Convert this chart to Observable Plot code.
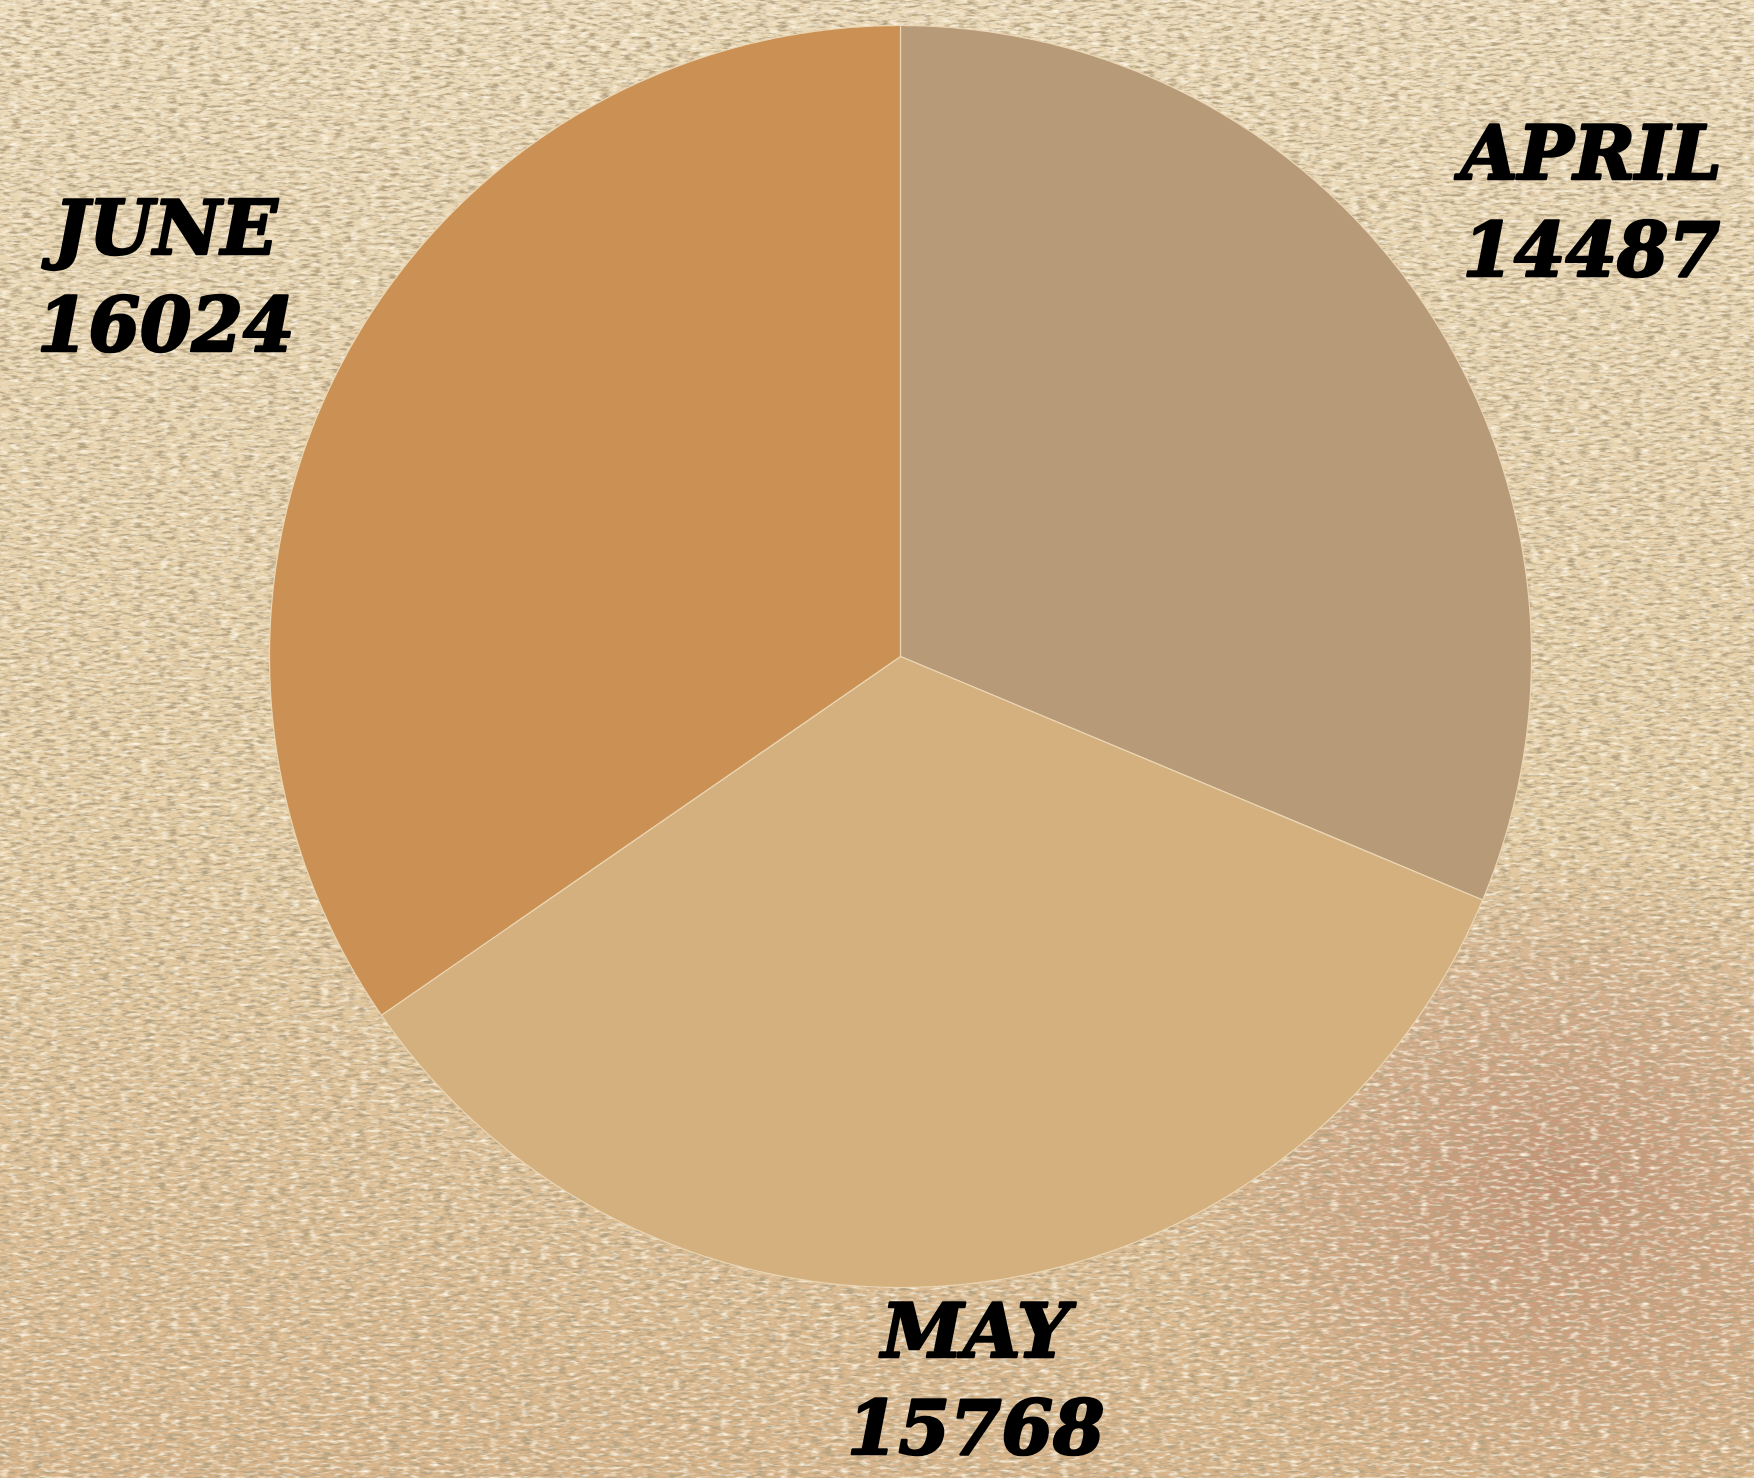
<!DOCTYPE html>
<html>
<head>
<meta charset="utf-8">
<script src="https://cdn.jsdelivr.net/npm/d3@7"></script>
<script src="https://cdn.jsdelivr.net/npm/@observablehq/plot@0.6"></script>
<style>
  html, body { margin: 0; padding: 0; width: 1754px; height: 1478px; overflow: hidden; background: #e9d6b2; }
  #bg { position: absolute; left: 0; top: 0; }
  #chart { position: absolute; left: 0; top: 0; }
</style>
</head>
<body>
<svg id="bg" width="1754" height="1478">
  <defs>
    <linearGradient id="base" x1="0" y1="0" x2="0" y2="1">
      <stop offset="0" stop-color="#ebdab9"/>
      <stop offset="0.55" stop-color="#e5cea6"/>
      <stop offset="1" stop-color="#d8b48a"/>
    </linearGradient>
    <radialGradient id="stain" cx="1560" cy="1180" r="420" gradientUnits="userSpaceOnUse" gradientTransform="translate(1560 1180) scale(1 0.8) translate(-1560 -1180)">
      <stop offset="0" stop-color="#a86050" stop-opacity="0.5"/>
      <stop offset="0.6" stop-color="#b47662" stop-opacity="0.28"/>
      <stop offset="1" stop-color="#c08a6a" stop-opacity="0"/>
    </radialGradient>
    <filter id="dark" x="0" y="0" width="100%" height="100%">
      <feTurbulence type="fractalNoise" baseFrequency="0.09 0.35" numOctaves="3" seed="4"/>
      <feColorMatrix type="matrix" values="0 0 0 0 0.46  0 0 0 0 0.36  0 0 0 0 0.22  3.2 0 0 0 -1.4"/>
    </filter>
    <filter id="light" x="0" y="0" width="100%" height="100%">
      <feTurbulence type="fractalNoise" baseFrequency="0.1 0.3" numOctaves="2" seed="11"/>
      <feColorMatrix type="matrix" values="0 0 0 0 0.98  0 0 0 0 0.92  0 0 0 0 0.78  2.4 0 0 0 -1.15"/>
    </filter>
  </defs>
  <rect width="1754" height="1478" fill="url(#base)"/>
  <rect width="1754" height="1478" fill="url(#stain)"/>
  <rect width="1754" height="1478" filter="url(#dark)"/>
  <rect width="1754" height="1478" filter="url(#light)"/>
</svg>
<div id="chart"></div>
<script>
// ---- data ----
const months = ["APRIL", "MAY", "JUNE"];
const values = [14487, 15768, 16024];
const colors = ["#b79b79", "#d5b07f", "#cb9154"];

// ---- layout ----
const W = 1754, H = 1478;
const cx = 900, cy = 656, R = 631;   // pie centre and radius in px
const labelK = 1.315;                // label distance, in radii
const bottomLimit = H - 104;         // keep label blocks inside the canvas

const data = months.map((m, i) => ({month: m, value: values[i]}));
const arcs = d3.pie().sort(null).value(d => d.value)(data);

// slice outlines (in radius units) from the pie angles
const slicePts = [];
for (const a of arcs) {
  slicePts.push({month: a.data.month, x: 0, y: 0});
  const n = Math.max(2, Math.ceil((a.endAngle - a.startAngle) / 0.005));
  for (let k = 0; k <= n; k++) {
    const t = a.startAngle + (a.endAngle - a.startAngle) * k / n;
    slicePts.push({month: a.data.month, x: Math.sin(t), y: Math.cos(t)});
  }
  slicePts.push({month: a.data.month, x: 0, y: 0});
}

// labels at the slice mid-angle
const labels = arcs.map(a => {
  const t = (a.startAngle + a.endAngle) / 2;
  let k = labelK;
  const py = -Math.cos(t) * R;  // px offset downward
  if (cy + py * k > bottomLimit) k = (bottomLimit - cy) / py;
  return {x: Math.sin(t) * k, y: Math.cos(t) * k, text: a.data.month + "\n" + a.data.value};
});

const chart = Plot.plot({
  width: W,
  height: H,
  margin: 0,
  style: {background: "transparent", overflow: "visible"},
  x: {domain: [-cx / R, (W - cx) / R], range: [0, W], axis: null},
  y: {domain: [-(H - cy) / R, cy / R], range: [H, 0], axis: null},
  color: {domain: months, range: colors},
  marks: [
    Plot.line(slicePts, {x: "x", y: "y", z: "month", fill: "month", stroke: "#ead6b4", strokeWidth: 1.2, curve: "linear"}),
    Plot.text(labels, {
      x: "x", y: "y", text: "text",
      fontFamily: "DejaVu Serif", fontStyle: "italic", fontWeight: "bold",
      fontSize: 74, lineHeight: 1.31, lineAnchor: "middle", textAnchor: "middle",
      fill: "black", stroke: "black", strokeWidth: 2.5
    })
  ]
});
document.getElementById("chart").appendChild(chart);
</script>
</body>
</html>
